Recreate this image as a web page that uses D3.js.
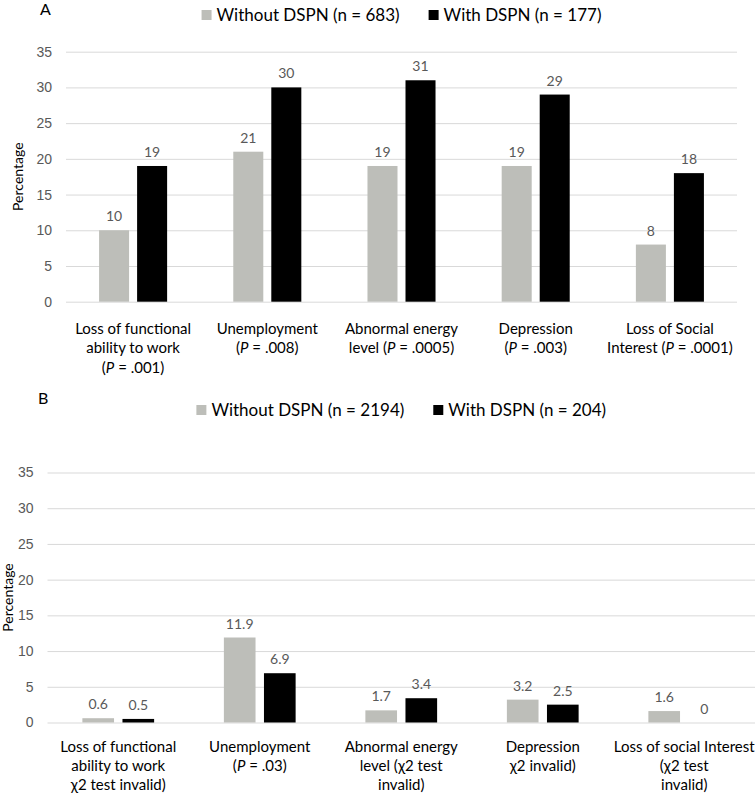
<!DOCTYPE html>
<html lang="en">
<head>
<meta charset="UTF-8">
<title>DSPN percentages</title>
<script src="https://d3js.org/d3.v7.min.js"></script>
<style>
  body { margin: 0; background: #fff; }
  svg { display: block; font-family: Lato, 'Open Sans', sans-serif; }
  .grid line { stroke: #d9d9d9; stroke-width: 1; }
  .grid path { display: none; }
  .grid text { fill: #595959; font-size: 14px; }
  .val { fill: #595959; font-size: 14px; text-anchor: middle; }
  .cat { fill: #000; font-size: 15px; text-anchor: middle; }
  .leg { fill: #000; font-size: 17px; }
  .ytitle { fill: #000; font-size: 14px; text-anchor: middle; }
</style>
</head>
<body>
<svg id="chart" width="755" height="793"></svg>
<script>
// ---- data ----
var seriesNames = ["without", "with"];
var yTicks = [0, 5, 10, 15, 20, 25, 30, 35];

var legendA = ["Without DSPN (n = 683)", "With DSPN (n = 177)"];
var labelsA = [
  ["Loss of functional", "ability to work", "(P = .001)"],
  ["Unemployment", "(P = .008)"],
  ["Abnormal energy", "level (P = .0005)"],
  ["Depression", "(P = .003)"],
  ["Loss of Social", "Interest (P = .0001)"]
];
var withoutA = [10, 21, 19, 19, 8];
var withA = [19, 30, 31, 29, 18];

var legendB = ["Without DSPN (n = 2194)", "With DSPN (n = 204)"];
var labelsB = [
  ["Loss of functional", "ability to work", "\u03c72 test invalid)"],
  ["Unemployment", "(P = .03)"],
  ["Abnormal energy", "level (\u03c72 test", "invalid)"],
  ["Depression", "\u03c72 invalid)"],
  ["Loss of social Interest", "(\u03c72 test", "invalid)"]
];
var withoutB = [0.6, 11.9, 1.7, 3.2, 1.6];
var withB = [0.5, 6.9, 3.4, 2.5, 0];

var colors = { without: "#bdbeb9", with: "#000000" };

var svg = d3.select("#chart");

function drawPanel(opt) {
  var g = svg.append("g");
  var cats = opt.labels.map(function (d, i) { return i; });
  var rows = cats.map(function (i) {
    return { i: i, without: opt.without[i], with: opt.with[i] };
  });

  var x0 = d3.scaleBand().domain(cats).range([opt.left, opt.right]).padding(0);
  var inner = x0.step() * 0.507;
  var x1 = d3.scaleBand().domain(seriesNames).range([0, inner]).paddingInner(0.2105);
  var y = d3.scaleLinear().domain([0, 35]).range([opt.bottom, opt.top]);

  // gridlines + tick labels
  g.append("g")
    .attr("class", "grid")
    .attr("transform", "translate(" + opt.left + ",0)")
    .call(d3.axisLeft(y).tickValues(yTicks).tickSize(-(opt.right - opt.left)).tickPadding(14))
    .call(function (a) { a.selectAll("text").attr("x", -14); });

  // y title
  g.append("text")
    .attr("class", "ytitle")
    .attr("transform", "translate(" + opt.titleX + "," + ((opt.top + opt.bottom) / 2) + ") rotate(-90)")
    .text("Percentage");

  // bars
  var grp = g.selectAll(".grp").data(rows).enter().append("g")
    .attr("transform", function (d) { return "translate(" + (x0(d.i) + (x0.bandwidth() - inner) / 2) + ",0)"; });

  grp.selectAll("rect")
    .data(function (d) { return seriesNames.map(function (k) { return { k: k, v: d[k] }; }); })
    .enter().append("rect")
    .attr("x", function (d) { return x1(d.k); })
    .attr("y", function (d) { return y(d.v); })
    .attr("width", x1.bandwidth())
    .attr("height", function (d) { return y(0) - y(d.v); })
    .attr("fill", function (d) { return colors[d.k]; });

  grp.selectAll(".val")
    .data(function (d) { return seriesNames.map(function (k) { return { k: k, v: d[k] }; }); })
    .enter().append("text")
    .attr("class", "val")
    .attr("x", function (d) { return x1(d.k) + x1.bandwidth() / 2; })
    .attr("y", function (d) { return y(d.v) - 9; })
    .text(function (d) { return d.v; });

  // category labels (P in italics)
  opt.labels.forEach(function (lines, i) {
    var t = g.append("text").attr("class", "cat")
      .attr("x", x0(i) + x0.bandwidth() / 2)
      .attr("y", opt.bottom + opt.labelGap);
    lines.forEach(function (line, j) {
      var parts = line.split(/(P)(?= =)/);
      parts.forEach(function (p, k) {
        if (p === "") return;
        var ts = t.append("tspan").text(p);
        if (k === 0 || (k === 1 && parts[0] === "")) {
          ts.attr("x", x0(i) + x0.bandwidth() / 2).attr("dy", j === 0 ? 0 : opt.lineH);
        }
        if (p === "P") ts.attr("font-style", "italic");
      });
    });
  });

  // panel letter
  g.append("text").attr("x", opt.letterX).attr("y", opt.letterY)
    .attr("font-size", 16).text(opt.letter);

  // legend
  var leg = g.append("g");
  var xpos = 0;
  seriesNames.forEach(function (k, i) {
    var it = leg.append("g").attr("transform", "translate(" + xpos + ",0)");
    it.append("rect").attr("x", 0).attr("y", opt.legendY - 11).attr("width", 10).attr("height", 10)
      .attr("fill", colors[k]);
    var tx = it.append("text").attr("class", "leg").attr("x", 15).attr("y", opt.legendY)
      .text(opt.legend[i]);
    xpos += 15 + tx.node().getComputedTextLength() + 29;
  });
  var lw = xpos - 29;
  leg.attr("transform", "translate(" + ((opt.left + opt.right) / 2 - lw / 2) + ",0)");
}

drawPanel({
  labels: labelsA, without: withoutA, with: withA, legend: legendA,
  left: 66, right: 737, top: 51.7, bottom: 301.7,
  labelGap: 32, lineH: 19.5,
  titleX: 23, letter: "A", letterX: 40, letterY: 15, legendY: 21
});

drawPanel({
  labels: labelsB, without: withoutB, with: withB, legend: legendB,
  left: 47.5, right: 755, top: 472.5, bottom: 722.5,
  labelGap: 29, lineH: 19,
  titleX: 13, letter: "B", letterX: 38, letterY: 404, legendY: 416
});
</script>
</body>
</html>
